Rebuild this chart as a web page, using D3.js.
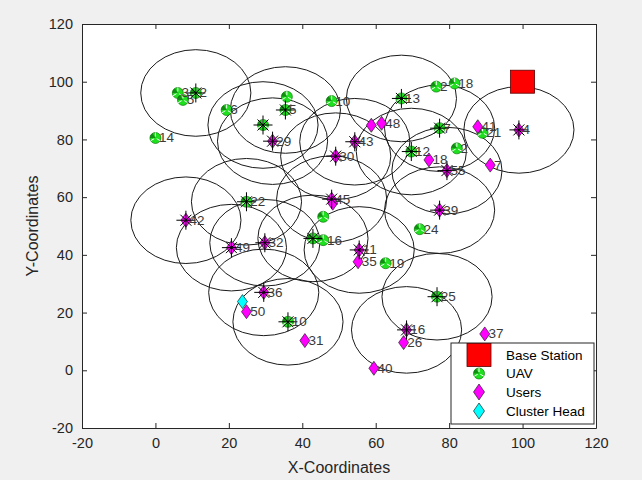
<!DOCTYPE html>
<html>
<head>
<meta charset="utf-8">
<script src="https://cdn.jsdelivr.net/npm/d3@7"></script>
<style>
  body { margin: 0; background: #f0f0f0; }
  svg { display: block; font-family: "Liberation Sans", Arial, sans-serif; }
</style>
</head>
<body>
<svg id="chart" width="642" height="480"></svg>
<script>
// ticks
var xTicks = [-20, 0, 20, 40, 60, 80, 100, 120];
var yTicks = [-20, 0, 20, 40, 60, 80, 100, 120];

// base station
var baseX = [100];
var baseY = [100];

// UAVs
var uavX = [6.1, 7.5, 11.0, 0.0, 19.4, 29.3, 35.8, 35.4, 48.0, 67.0, 69.7, 77.4, 82.1, 89.1, 76.5, 81.5, 24.8, 45.7, 42.9, 45.7, 62.7, 72.0, 36.1, 76.7];
var uavY = [96.1, 93.7, 96.1, 80.5, 90.2, 85.0, 94.8, 90.2, 93.3, 94.2, 75.8, 83.9, 76.9, 82.3, 98.3, 99.4, 58.4, 53.2, 45.7, 45.1, 37.1, 48.9, 16.8, 25.5];
var uavLabel = ["3", "5", "2", "14", "6", "", "", "5", "10", "13", "12", "7", "2", "21", "2", "18", "22", "", "", "16", "19", "24", "10", "25"];

// users
var userX = [31.9, 58.8, 61.6, 54.3, 49.1, 74.5, 79.4, 87.8, 91.2, 99.0, 8.3, 20.7, 29.8, 29.5, 48.0, 48.3, 55.5, 55.2, 77.4, 24.8, 40.7, 68.4, 67.6, 59.5, 89.7];
var userY = [79.4, 84.9, 85.6, 79.2, 74.2, 72.9, 69.2, 84.4, 71.1, 83.3, 52.0, 42.5, 44.2, 27.0, 59.3, 57.9, 41.7, 37.6, 55.5, 20.3, 10.3, 14.0, 9.6, 0.7, 12.6];
var userLabel = ["29", "", "48", "43", "30", "18", "55", "41", "7", "4", "42", "49", "32", "36", "45", "", "11", "35", "39", "50", "31", "16", "26", "40", "37"];

// cluster head
var headX = [23.7];
var headY = [23.8];

// cluster centres (asterisks) and their coverage radius
var centerX = [11.0, 29.3, 35.4, 67.0, 69.7, 77.4, 24.8, 42.9, 36.1, 76.7, 31.9, 54.3, 49.1, 79.4, 99.0, 8.3, 20.7, 29.8, 29.5, 48.0, 55.5, 77.4, 68.4];
var centerY = [96.1, 85.0, 90.2, 94.2, 75.8, 83.9, 58.4, 45.7, 16.8, 25.5, 79.4, 79.2, 74.2, 69.2, 83.3, 52.0, 42.5, 44.2, 27.0, 59.3, 41.7, 55.5, 14.0];
var radius = 15;

var legendLabels = ["Base Station", "UAV", "Users", "Cluster Head"];

var svg = d3.select("#chart");
var pLeft = 82, pRight = 596, pTop = 24, pBottom = 428;

var x = d3.scaleLinear().domain([-20, 120]).range([pLeft, pRight]);
var y = d3.scaleLinear().domain([-20, 120]).range([pBottom, pTop]);

var axisColor = "#262626";

svg.append("rect")
  .attr("x", pLeft).attr("y", pTop)
  .attr("width", pRight - pLeft).attr("height", pBottom - pTop)
  .attr("fill", "#fff");

var plot = svg.append("g");

// coverage circles
var rx = x(radius) - x(0), ry = y(0) - y(radius);
plot.selectAll("ellipse.cov")
  .data(d3.range(centerX.length))
  .enter().append("ellipse")
  .attr("cx", function(i) { return x(centerX[i]); })
  .attr("cy", function(i) { return y(centerY[i]); })
  .attr("rx", rx).attr("ry", ry)
  .attr("fill", "none")
  .attr("stroke", "#1a1a1a")
  .attr("stroke-width", 1);

function drawUav(g, cx, cy, r) {
  g.append("circle").attr("cx", cx).attr("cy", cy).attr("r", r)
    .attr("fill", "#1ee01e").attr("stroke", "#0b7a0b").attr("stroke-width", 0.7);
  g.append("path")
    .attr("d", "M" + cx + "," + cy + " L" + (cx - r) + "," + cy +
      " A" + r + "," + r + " 0 0 1 " + (cx - r * 0.5) + "," + (cy - r * 0.87) + " Z")
    .attr("fill", "#064d06").attr("opacity", 0.55);
  [-90, 30, 150].forEach(function(a) {
    var t = a * Math.PI / 180;
    g.append("line")
      .attr("x1", cx + 1.5 * Math.cos(t)).attr("y1", cy + 1.5 * Math.sin(t))
      .attr("x2", cx + r * Math.cos(t)).attr("y2", cy + r * Math.sin(t))
      .attr("stroke", "#fff").attr("stroke-width", 1);
  });
}

function diamond(g, cx, cy, w, h, fill) {
  g.append("path")
    .attr("d", "M" + cx + "," + (cy - h / 2) + " L" + (cx + w / 2) + "," + cy +
      " L" + cx + "," + (cy + h / 2) + " L" + (cx - w / 2) + "," + cy + " Z")
    .attr("fill", fill).attr("stroke", "#222").attr("stroke-width", 0.7);
}

function asterisk(g, cx, cy) {
  var a = 9.5, b = 5.5;
  var d = "M" + (cx - a) + "," + cy + " L" + (cx + a) + "," + cy +
    " M" + cx + "," + (cy - a) + " L" + cx + "," + (cy + a) +
    " M" + (cx - b) + "," + (cy - b) + " L" + (cx + b) + "," + (cy + b) +
    " M" + (cx - b) + "," + (cy + b) + " L" + (cx + b) + "," + (cy - b);
  g.append("path").attr("d", d).attr("stroke", "#000").attr("stroke-width", 1).attr("fill", "none");
}

// base station
baseX.forEach(function(v, i) {
  plot.append("rect")
    .attr("x", x(v) - 12).attr("y", y(baseY[i]) - 11.5)
    .attr("width", 24).attr("height", 23)
    .attr("fill", "#ff0000").attr("stroke", "#5a0000").attr("stroke-width", 0.8);
});

// UAVs
uavX.forEach(function(v, i) { drawUav(plot, x(v), y(uavY[i]), 5.5); });

// users
userX.forEach(function(v, i) { diamond(plot, x(v), y(userY[i]), 10, 14, "#ff00ff"); });

// cluster head
headX.forEach(function(v, i) { diamond(plot, x(v), y(headY[i]), 10, 14, "#00ffff"); });

// centres
centerX.forEach(function(v, i) { asterisk(plot, x(v), y(centerY[i])); });

// labels
function labels(xs, ys, ls) {
  xs.forEach(function(v, i) {
    if (!ls[i]) return;
    plot.append("text")
      .attr("x", x(v + 1)).attr("y", y(ys[i]))
      .attr("dominant-baseline", "central")
      .attr("font-size", 13.5)
      .attr("fill", "#3a3a3a")
      .text(ls[i]);
  });
}
labels(uavX, uavY, uavLabel);
labels(userX, userY, userLabel);

// axes (ticks inside, box on)
function styleAxis(g) {
  g.selectAll("path").attr("stroke", axisColor);
  g.selectAll("line").attr("stroke", axisColor);
  g.selectAll("text").attr("fill", axisColor).attr("font-size", 14.5)
    .attr("font-family", "Liberation Sans, Arial, sans-serif");
}
var fmt = function(d) { return String(d); };

svg.append("g").attr("transform", "translate(0," + pBottom + ")")
  .call(d3.axisBottom(x).tickValues(xTicks).tickFormat(fmt).tickSizeInner(-5).tickSizeOuter(0).tickPadding(10))
  .call(styleAxis);
svg.append("g").attr("transform", "translate(" + pLeft + ",0)")
  .call(d3.axisLeft(y).tickValues(yTicks).tickFormat(fmt).tickSizeInner(-5).tickSizeOuter(0).tickPadding(9))
  .call(styleAxis);
svg.append("g").attr("transform", "translate(0," + pTop + ")")
  .call(d3.axisTop(x).tickValues(xTicks).tickSizeInner(-5).tickSizeOuter(0).tickFormat(""))
  .call(styleAxis);
svg.append("g").attr("transform", "translate(" + pRight + ",0)")
  .call(d3.axisRight(y).tickValues(yTicks).tickSizeInner(-5).tickSizeOuter(0).tickFormat(""))
  .call(styleAxis);

svg.append("text")
  .attr("x", (pLeft + pRight) / 2).attr("y", 473)
  .attr("text-anchor", "middle").attr("font-size", 16).attr("fill", axisColor)
  .text("X-Coordinates");
svg.append("text")
  .attr("transform", "translate(38," + ((pTop + pBottom) / 2) + ") rotate(-90)")
  .attr("text-anchor", "middle").attr("font-size", 16).attr("fill", axisColor)
  .text("Y-Coordinates");

// legend
var lg = svg.append("g");
lg.append("rect")
  .attr("x", 451).attr("y", 343).attr("width", 143).attr("height", 81)
  .attr("fill", "#fff").attr("stroke", axisColor).attr("stroke-width", 1);
var rowY = [355, 373.5, 392, 411];
var mx = 479;
lg.append("rect").attr("x", mx - 12).attr("y", rowY[0] - 11.5).attr("width", 24).attr("height", 23)
  .attr("fill", "#ff0000").attr("stroke", "#5a0000").attr("stroke-width", 0.8);
drawUav(lg, mx, rowY[1], 5.5);
diamond(lg, mx, rowY[2], 11, 16, "#ff00ff");
diamond(lg, mx, rowY[3], 11, 16, "#00ffff");
legendLabels.forEach(function(t, i) {
  lg.append("text")
    .attr("x", 506).attr("y", rowY[i])
    .attr("dominant-baseline", "central")
    .attr("font-size", 13.5).attr("fill", "#000")
    .text(t);
});
</script>
</body>
</html>
